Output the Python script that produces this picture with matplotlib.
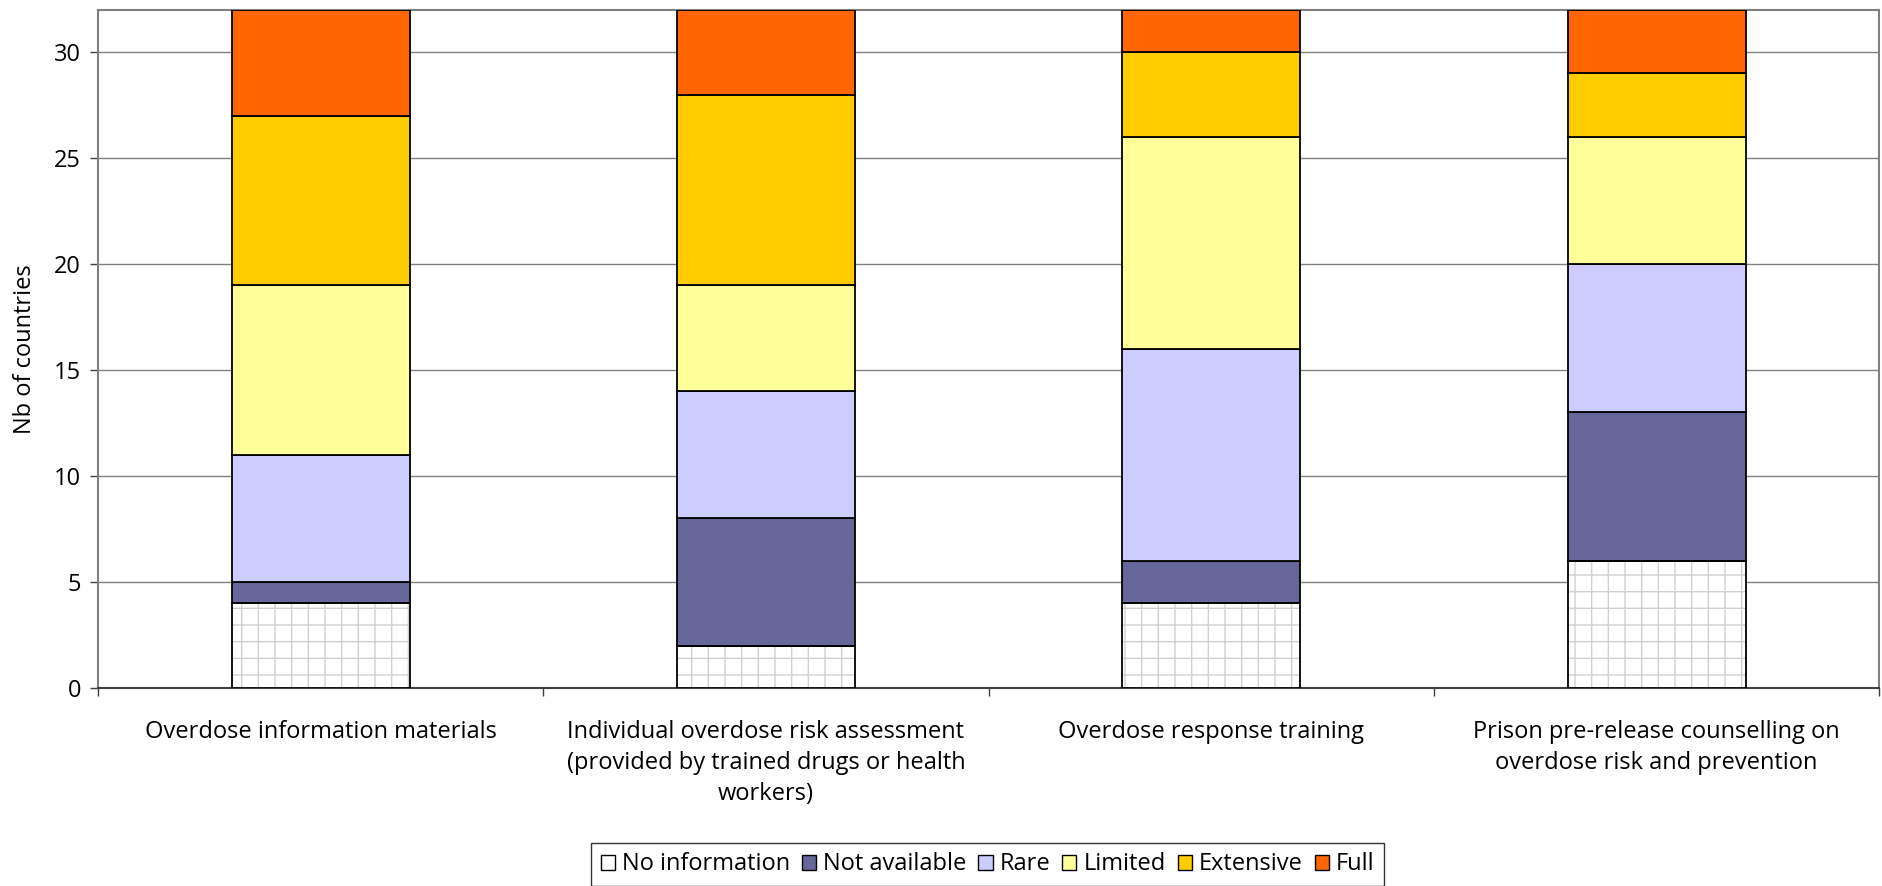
import numpy as np
import matplotlib
matplotlib.use('Agg')
import matplotlib.pyplot as plt
from matplotlib.patches import Patch

plt.rcParams['font.family'] = ['Open Sans', 'DejaVu Sans']

categories = ['Overdose information materials',
              'Individual overdose risk assessment\n(provided by trained drugs or health\nworkers)',
              'Overdose response training',
              'Prison pre-release counselling on\noverdose risk and prevention']
levels = ['No information', 'Not available', 'Rare', 'Limited', 'Extensive', 'Full']
no_information = [4, 2, 4, 6]
not_available = [1, 6, 2, 7]
rare = [6, 6, 10, 7]
limited = [8, 5, 10, 6]
extensive = [8, 9, 4, 3]
full = [5, 4, 2, 3]
series = [no_information, not_available, rare, limited, extensive, full]
colors = ['white', '#666699', '#CCCCFF', '#FFFF99', '#FFCC00', '#FF6600']

fig = plt.figure(figsize=(18.83, 8.86), dpi=100)
ax = fig.add_axes([0.052, 0.2235, 0.946, 0.7655])

x = np.arange(len(categories))
width = 0.4
bottom = np.zeros(len(categories))
for vals, col, name in zip(series, colors, levels):
    vals = np.array(vals, dtype=float)
    if name == 'No information':
        # light grid pattern first, black outline on top
        ax.bar(x, vals, width, bottom=bottom, color='white', edgecolor='#d0d0d0',
               hatch='+', linewidth=0, zorder=3)
        ax.bar(x, vals, width, bottom=bottom, fill=False, edgecolor='black',
               linewidth=1.3, zorder=4)
    else:
        ax.bar(x, vals, width, bottom=bottom, color=col, edgecolor='black',
               linewidth=1.3, zorder=3)
    bottom += vals

ax.set_xlim(-0.5, 3.5)
ax.set_ylim(0, 32)
ax.set_yticks(range(0, 31, 5))
ax.yaxis.grid(True, color='#808080', linewidth=1.0, zorder=0)
ax.set_axisbelow(True)

ax.set_xticks(x)
ax.set_xticklabels(categories, fontsize=17, linespacing=1.38)
ax.set_xticks(np.arange(-0.5, 4, 1), minor=True)
ax.tick_params(axis='x', which='major', length=0, pad=23)
ax.tick_params(axis='x', which='minor', length=6, width=1.0, color='#404040')
ax.tick_params(axis='y', length=6, width=1.0, color='#404040', labelsize=17, pad=6)

for side in ['top', 'right', 'left']:
    ax.spines[side].set_color('#808080')
    ax.spines[side].set_linewidth(1.5)
ax.spines['bottom'].set_color('#404040')
ax.spines['bottom'].set_linewidth(1.5)

ax.set_ylabel('Nb of countries', fontsize=17, labelpad=12)

handles = []
for col, name in zip(colors, levels):
    handles.append(Patch(facecolor=col, edgecolor='black', linewidth=1.0, label=name))
leg = fig.legend(handles=handles, loc='upper center', bbox_to_anchor=(0.5245, 0.0485),
                 ncol=6, fontsize=17, frameon=True, fancybox=False, shadow=False,
                 handlelength=0.6, handleheight=0.6, handletextpad=0.3, columnspacing=0.5,
                 borderpad=0.4, borderaxespad=0)
leg.get_frame().set_edgecolor('black')
leg.get_frame().set_linewidth(1.0)

fig.savefig('out.png', dpi=100)
